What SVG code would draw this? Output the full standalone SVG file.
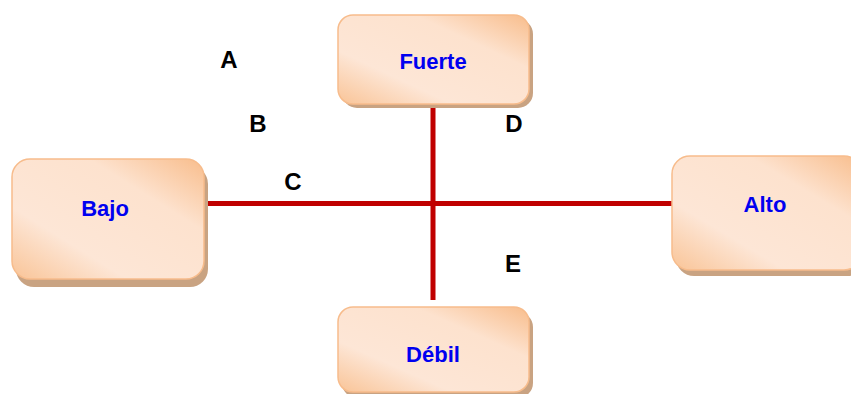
<svg xmlns="http://www.w3.org/2000/svg" width="851" height="394" viewBox="0 0 851 394">
<defs>
<linearGradient id="g" x1="0" y1="1" x2="1" y2="0">
<stop offset="0" stop-color="#F9C497"/>
<stop offset="0.3" stop-color="#FDE6D6"/>
<stop offset="0.7" stop-color="#FDE2CE"/>
<stop offset="1" stop-color="#F8BD8C"/>
</linearGradient>
</defs>
<style>
.sh{fill:#C9A382;}
.bx{fill:url(#g);stroke:#F7BC8C;stroke-width:1.5;}
.t{font-family:"Liberation Sans",Arial,sans-serif;font-weight:bold;font-size:22px;fill:#0000F0;text-anchor:middle;}
.l{font-family:"Liberation Sans",Arial,sans-serif;font-weight:bold;font-size:24px;fill:#000;text-anchor:middle;}
.c{stroke:#C00000;stroke-width:5;fill:none;}
</style>
<g id="connectors">
<line class="c" x1="204" y1="203.5" x2="672" y2="203.5"/>
<line class="c" x1="433" y1="104" x2="433" y2="300"/>
</g>
<g id="fuerte">
<rect class="sh" x="342" y="19" width="191" height="89" rx="15"/>
<rect class="bx" x="338" y="15" width="191" height="89" rx="15"/>
<text class="t" x="433" y="69">Fuerte</text>
</g>
<g id="bajo">
<rect class="sh" x="16" y="166" width="192" height="121" rx="18"/>
<rect class="bx" x="12" y="159" width="192" height="120" rx="18"/>
<text class="t" x="105" y="216">Bajo</text>
</g>
<g id="alto">
<rect class="sh" x="676" y="162" width="190" height="114" rx="18"/>
<rect class="bx" x="672" y="156" width="190" height="114" rx="18"/>
<text class="t" x="765" y="212">Alto</text>
</g>
<g id="debil">
<rect class="sh" x="342" y="312" width="191" height="86" rx="15"/>
<rect class="bx" x="338" y="307" width="191" height="85" rx="15"/>
<text class="t" x="433" y="362">Débil</text>
</g>
<g id="labels">
<text class="l" x="229" y="68">A</text>
<text class="l" x="258" y="132">B</text>
<text class="l" x="293" y="190">C</text>
<text class="l" x="514" y="132">D</text>
<text class="l" x="513" y="272">E</text>
</g>
</svg>
